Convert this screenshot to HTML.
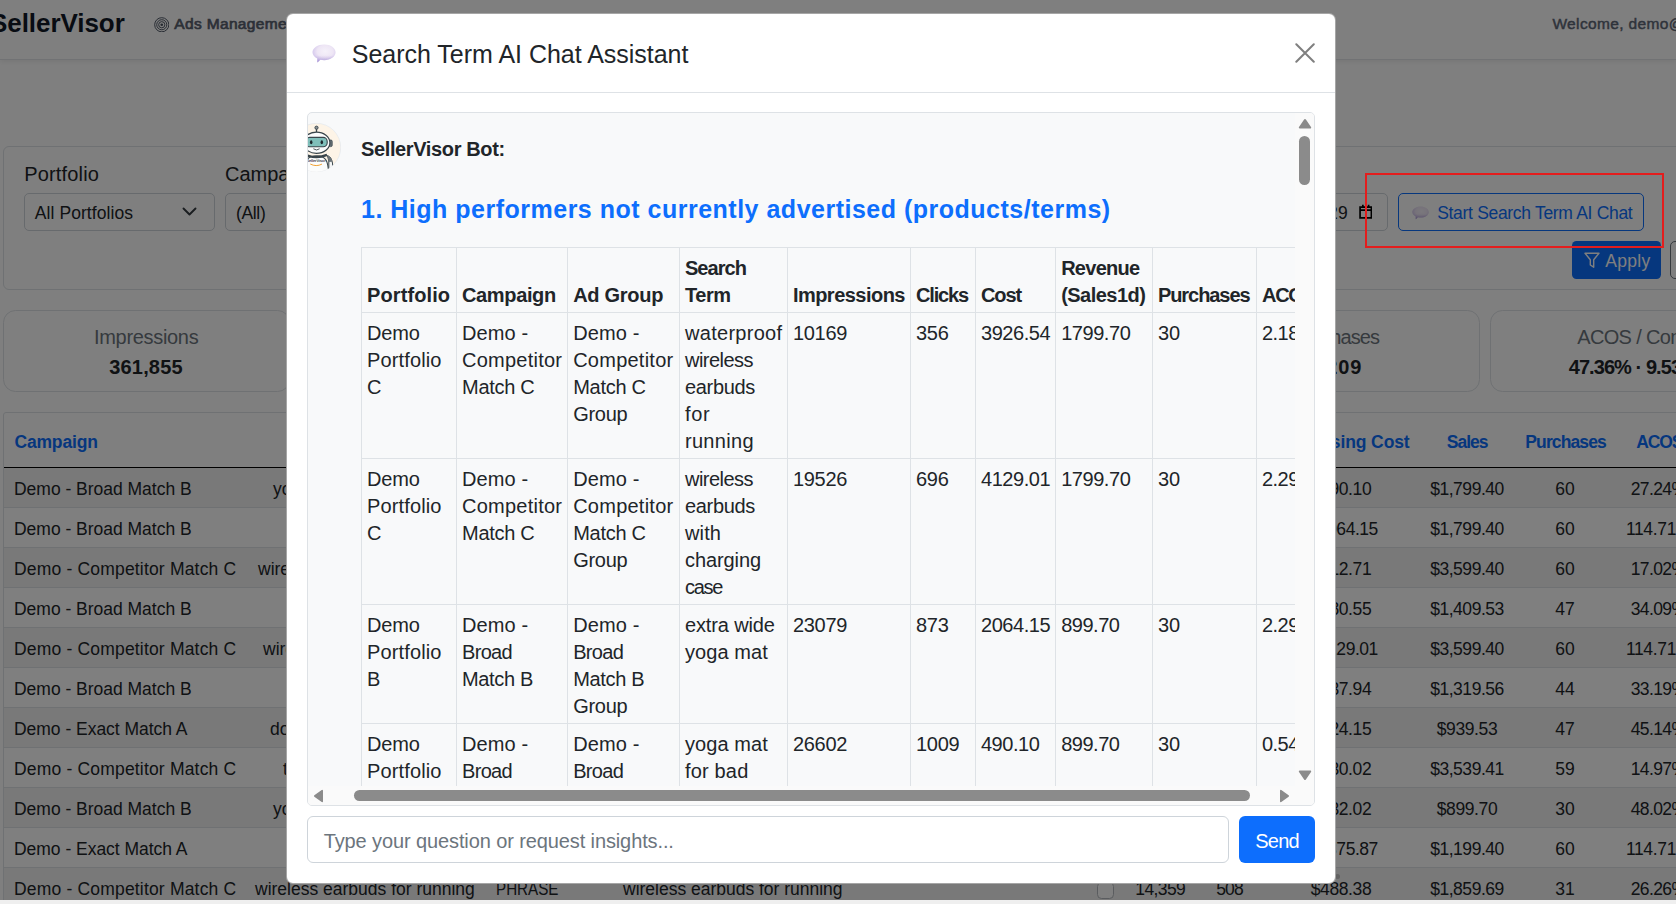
<!DOCTYPE html>
<html lang="en"><head><meta charset="utf-8"><title>SellerVisor - Search Term AI Chat Assistant</title>
<style>
*{box-sizing:border-box;}
html,body{margin:0;padding:0;}
body{width:1676px;height:904px;overflow:hidden;position:relative;background:#fff;
 font-family:"Liberation Sans",sans-serif;color:#212529;font-size:20px;}
.abs{position:absolute;white-space:nowrap;}
#app{position:absolute;left:0;top:0;width:1676px;height:904px;overflow:hidden;background:#fff;}
/* top bar */
.topbar{position:absolute;left:0;top:0;width:1676px;height:60px;background:#fff;border-bottom:1px solid #e3e5e8;box-shadow:0 2px 5px rgba(0,0,0,.07);}
.target-ic{position:absolute;left:153.8px;top:16.8px;width:15.5px;height:15.5px;}
/* filter card */
.filters{position:absolute;left:3px;top:146px;width:1800px;height:144px;border:1px solid #dee2e6;border-radius:6px;background:#fff;}
.select{position:absolute;height:38px;border:1px solid #ced4da;border-radius:5px;background:#fff;overflow:hidden;}
.btn-outline{position:absolute;left:1398px;top:193px;width:246px;height:38px;border:1px solid #0d6efd;border-radius:5px;color:#0d6efd;}
.btn-apply{position:absolute;left:1572px;top:241px;width:89px;height:37.7px;background:#0d6efd;border-radius:4.5px;color:#fff;}
.btn-next{position:absolute;left:1670px;top:241px;width:60px;height:38px;border:1px solid #6c757d;border-radius:5px;}
/* stat cards */
.stat{position:absolute;top:310px;height:81.5px;border:1px solid #dee2e6;border-radius:12.5px;background:#fff;}
/* table card */
.tcard{position:absolute;left:3px;top:412px;width:1800px;height:520px;border:1px solid #dee2e6;border-radius:3px 3px 0 0;background:#fff;}
.thead{position:absolute;left:0;top:0;width:100%;height:55px;border-bottom:1.5px solid #000;}
.th{color:#0d6efd;}
.tr{position:absolute;left:0;width:100%;height:40px;border-bottom:1px solid #dee2e6;}
.tr.odd{background:#f2f2f2;}
.chk{position:absolute;left:1093.2px;top:14.3px;width:16.6px;height:16.6px;border:1px solid #b4b9be;border-radius:4.5px;background:#fff;}
/* overlay */
.backdrop{position:absolute;left:0;top:0;width:1676px;height:904px;background:rgba(0,0,0,.5);}
.annot{position:absolute;left:1365px;top:172.6px;width:299px;height:75.8px;border:2px solid #e41d1d;}
.strip{position:absolute;left:0;top:900px;width:1676px;height:4px;background:#efefef;}
.dot{position:absolute;left:1334.8px;top:874.3px;width:5px;height:5px;border-radius:50%;background:#626262;}
/* modal */
.modal{position:absolute;left:286px;top:13px;width:1050px;height:871px;background:#fff;border:1px solid rgba(0,0,0,.35);border-radius:7px;}
.mhead{position:absolute;left:0;top:0;width:100%;height:78.5px;border-bottom:1px solid #dee2e6;}
.bubble{position:absolute;}
.close{position:absolute;left:1008px;top:29px;width:20.1px;height:20.1px;}
.chat{position:absolute;left:20px;top:98px;width:1008px;height:694px;border:1px solid #dee2e6;border-radius:5px;background:#f8f9fa;overflow:hidden;}
.avatar{position:absolute;left:-16.5px;top:10.2px;width:49px;height:49px;}
.view{position:absolute;left:0;top:0;width:987px;height:672.5px;overflow:hidden;}
table.ai{position:absolute;left:53px;top:134px;border-collapse:collapse;table-layout:fixed;font-size:20px;line-height:27px;}
table.ai td,table.ai th{border:1px solid #dee2e6;padding:7px 5px 3px 5px;vertical-align:top;text-align:left;white-space:nowrap;overflow:hidden;}
table.ai th{vertical-align:bottom;font-weight:700;}
.vsb{position:absolute;left:987px;top:0;width:19px;height:672.5px;background:#fafafa;}
.hsb{position:absolute;left:0;top:672.5px;width:1006px;height:19.5px;background:#fafafa;}
.thumb{position:absolute;background:#8b8b8b;border-radius:6px;}
.input{position:absolute;left:20px;top:802px;width:921.5px;height:46.5px;border:1px solid #ced4da;border-radius:6px;background:#fff;}
.send{position:absolute;left:952px;top:802px;width:76px;height:46.5px;border-radius:6px;background:#0d6efd;color:#fff;}
</style></head>
<body>
<div id="app">
 <header class="topbar">
  <span class="abs " style="left:-10px;top:7.99px;font-size:26px;line-height:30px;font-weight:700;color:#111827;"><span style="letter-spacing:-0.06px">SellerVisor</span></span>
  <svg class="target-ic" viewBox="0 0 16 16"><g fill="none" stroke="#4b5563" stroke-width="1"><circle cx="8" cy="8" r="7.300"/><circle cx="8" cy="8" r="5.200"/><circle cx="8" cy="8" r="3.200"/></g><circle cx="8" cy="8" r="1.400" fill="#4b5563"/></svg>
  <span class="abs " style="left:174.3px;top:13.63px;font-size:15.5px;line-height:20px;color:#59616f;-webkit-text-stroke:.7px #59616f;"><span style="letter-spacing:0.34px">Ads Management</span></span>
  <span class="abs " style="left:1552.4px;top:13.63px;font-size:15.5px;line-height:20px;color:#5d6676;-webkit-text-stroke:.45px #5d6676;"><span style="letter-spacing:0.36px">Welcome, demo@sellervisor.com</span></span>
 </header>
 <section class="filters">
  <span class="abs " style="left:20.3px;top:14.87px;font-size:20px;line-height:24px;"><span style="letter-spacing:0.15px">Portfolio</span></span>
  <div class="select" style="left:20px;top:46px;width:191px"><span class="abs " style="left:9.8px;top:8.84px;font-size:17.5px;line-height:21px;"><span style="letter-spacing:0.07px">All Portfolios</span></span><svg style="position:absolute;left:157px;top:13px" width="15" height="10" viewBox="0 0 15 10"><path d="M1.500 1.500l6 6 6-6" fill="none" stroke="#343a40" stroke-width="1.900" stroke-linecap="round" stroke-linejoin="round"/></svg></div>
  <span class="abs " style="left:221px;top:14.87px;font-size:20px;line-height:24px;">Campaign</span>
  <div class="select" style="left:221px;top:46px;width:191px"><span class="abs " style="left:10px;top:8.84px;font-size:17.5px;line-height:21px;"><span style="letter-spacing:-0.35px">(All)</span></span></div>
  <div class="select" style="left:1196px;top:46px;width:188px"><span class="abs " style="left:54.3px;top:8.84px;font-size:17.5px;line-height:21px;"><span style="letter-spacing:0.33px">2025-09-29</span></span><svg style="position:absolute;left:157.7px;top:9.5px" width="13.500" height="15.300" viewBox="0 0 15 17"><path d="M1.200 3.500h12.600v12H1.200zM1.200 6.800h12.600M4.300 .8v3.400M10.700 .8v3.400" fill="none" stroke="#000" stroke-width="1.900"/></svg></div>
 </section>
 <div class="btn-outline"><svg class="bubble" style="left:13px;top:12px" width="17" height="13.5" viewBox="0 0 24 19"><defs><radialGradient id="g1" cx="55%" cy="38%" r="62%"><stop offset="0" stop-color="#f5f1fa"/><stop offset="0.55" stop-color="#eee6f5"/><stop offset="0.85" stop-color="#d9cdee"/><stop offset="1" stop-color="#bfaee2"/></radialGradient><linearGradient id="g1t" x1="0" y1="0" x2="0" y2="1"><stop offset="0.6" stop-color="#b7a5dc" stop-opacity="0"/><stop offset="1" stop-color="#9a86cf" stop-opacity=".75"/></linearGradient></defs><path d="M12.200 .5C18.600 .5 23.700 4 23.700 8.400c0 4.400-5.100 7.900-11.500 7.900-1.300 0-2.600-.15-3.800-.4L5.300 18.700 5.200 14.700C2.300 13.200.4 11 .4 8.400.4 4 5.700.5 12.200.5z" fill="url(#g1)"/><path d="M12.200 .5C18.600 .5 23.700 4 23.700 8.400c0 4.400-5.100 7.900-11.500 7.900-1.300 0-2.600-.15-3.800-.4L5.300 18.700 5.200 14.700C2.300 13.200.4 11 .4 8.400.4 4 5.700.5 12.200.5z" fill="url(#g1t)"/></svg><span class="abs " style="left:38.2px;top:8.64px;font-size:17.5px;line-height:21px;"><span style="letter-spacing:-0.31px">Start Search Term AI Chat</span></span></div>
 <div class="btn-apply"><svg style="position:absolute;left:11.5px;top:10.5px" width="16" height="17" viewBox="0 0 16 17"><path d="M1 1.200h14L9.700 7.800v7.400L6.300 13V7.800z" fill="none" stroke="#fff" stroke-width="1.400" stroke-linejoin="round"/></svg><span class="abs " style="left:33.2px;top:9.84px;font-size:17.5px;line-height:21px;"><span style="letter-spacing:0.31px">Apply</span></span></div>
 <div class="btn-next"></div>
 <section class="stats">
  <div class="stat" style="left:3px;width:287px"><span class="abs " style="left:142.2px;top:14.27px;font-size:20px;line-height:24px;transform:translateX(-50%);color:#6c757d;"><span style="letter-spacing:-0.32px">Impressions</span></span><span class="abs " style="left:142px;top:44.07px;font-size:20px;line-height:24px;font-weight:700;transform:translateX(-50%);"><span style="letter-spacing:0.17px">361,855</span></span></div>
  <div class="stat" style="left:1193px;width:287px"><span class="abs " style="left:142px;top:14.27px;font-size:20px;line-height:24px;transform:translateX(-50%);color:#6c757d;"><span style="letter-spacing:-0.93px">Purchases</span></span><span class="abs " style="left:141px;top:44.07px;font-size:20px;line-height:24px;font-weight:700;transform:translateX(-50%);"><span style="letter-spacing:0.88px">1,209</span></span></div>
  <div class="stat" style="left:1490px;width:287px"><span class="abs " style="left:86.2px;top:14.27px;font-size:20px;line-height:24px;color:#6c757d;"><span style="letter-spacing:-0.64px">ACOS / Conv</span></span><span class="abs " style="left:77.7px;top:44.07px;font-size:20px;line-height:24px;font-weight:700;"><span style="letter-spacing:-0.93px">47.36% &middot; 9.53%</span></span></div>
 </section>
 <section class="tcard">
  <div class="thead">
   <span class="abs th" style="left:10.4px;top:18.84px;font-size:17.5px;line-height:21px;font-weight:700;"><span style="letter-spacing:-0.15px">Campaign</span></span>
   <span class="abs th" style="left:1405.6px;top:18.84px;font-size:17.5px;line-height:21px;font-weight:700;transform:translateX(-100%);"><span style="letter-spacing:-0.10px">Advertising Cost</span></span>
   <span class="abs th" style="left:1463.2px;top:18.84px;font-size:17.5px;line-height:21px;font-weight:700;transform:translateX(-50%);"><span style="letter-spacing:-1.00px">Sales</span></span>
   <span class="abs th" style="left:1561.6px;top:18.84px;font-size:17.5px;line-height:21px;font-weight:700;transform:translateX(-50%);"><span style="letter-spacing:-0.88px">Purchases</span></span>
   <span class="abs th" style="left:1632.2px;top:18.84px;font-size:17.5px;line-height:21px;font-weight:700;"><span style="letter-spacing:-1.14px">ACOS</span></span>
  </div>
<div class="tr odd" style="top:55px"><span class="abs " style="left:10px;top:10.84px;font-size:17.5px;line-height:21px;"><span style="letter-spacing:-0.02px">Demo - Broad Match B</span></span><span class="abs " style="left:269px;top:10.84px;font-size:17.5px;line-height:21px;">yoga mat for bad knees</span><span class="abs " style="left:1337px;top:10.84px;font-size:17.5px;line-height:21px;transform:translateX(-50%);"><span style="letter-spacing:-0.39px">$490.10</span></span><span class="abs " style="left:1463px;top:10.84px;font-size:17.5px;line-height:21px;transform:translateX(-50%);"><span style="letter-spacing:-0.47px">$1,799.40</span></span><span class="abs " style="left:1561px;top:10.84px;font-size:17.5px;line-height:21px;transform:translateX(-50%);"><span style="letter-spacing:-0.08px">60</span></span><span class="abs " style="left:1654.6px;top:10.84px;font-size:17.5px;line-height:21px;transform:translateX(-50%);"><span style="letter-spacing:-0.60px">27.24%</span></span></div>
<div class="tr" style="top:95px"><span class="abs " style="left:10px;top:10.84px;font-size:17.5px;line-height:21px;"><span style="letter-spacing:-0.02px">Demo - Broad Match B</span></span><span class="abs " style="left:1337px;top:10.84px;font-size:17.5px;line-height:21px;transform:translateX(-50%);"><span style="letter-spacing:-0.47px">$2,064.15</span></span><span class="abs " style="left:1463px;top:10.84px;font-size:17.5px;line-height:21px;transform:translateX(-50%);"><span style="letter-spacing:-0.47px">$1,799.40</span></span><span class="abs " style="left:1561px;top:10.84px;font-size:17.5px;line-height:21px;transform:translateX(-50%);"><span style="letter-spacing:-0.08px">60</span></span><span class="abs " style="left:1654.6px;top:10.84px;font-size:17.5px;line-height:21px;transform:translateX(-50%);"><span style="letter-spacing:-0.34px">114.71%</span></span></div>
<div class="tr odd" style="top:135px"><span class="abs " style="left:10px;top:10.84px;font-size:17.5px;line-height:21px;"><span style="letter-spacing:0.18px">Demo - Competitor Match C</span></span><span class="abs " style="left:254px;top:10.84px;font-size:17.5px;line-height:21px;">wireless earbuds for running</span><span class="abs " style="left:1337px;top:10.84px;font-size:17.5px;line-height:21px;transform:translateX(-50%);"><span style="letter-spacing:-0.39px">$612.71</span></span><span class="abs " style="left:1463px;top:10.84px;font-size:17.5px;line-height:21px;transform:translateX(-50%);"><span style="letter-spacing:-0.47px">$3,599.40</span></span><span class="abs " style="left:1561px;top:10.84px;font-size:17.5px;line-height:21px;transform:translateX(-50%);"><span style="letter-spacing:-0.08px">60</span></span><span class="abs " style="left:1654.6px;top:10.84px;font-size:17.5px;line-height:21px;transform:translateX(-50%);"><span style="letter-spacing:-0.60px">17.02%</span></span></div>
<div class="tr" style="top:175px"><span class="abs " style="left:10px;top:10.84px;font-size:17.5px;line-height:21px;"><span style="letter-spacing:-0.02px">Demo - Broad Match B</span></span><span class="abs " style="left:1337px;top:10.84px;font-size:17.5px;line-height:21px;transform:translateX(-50%);"><span style="letter-spacing:-0.39px">$480.55</span></span><span class="abs " style="left:1463px;top:10.84px;font-size:17.5px;line-height:21px;transform:translateX(-50%);"><span style="letter-spacing:-0.47px">$1,409.53</span></span><span class="abs " style="left:1561px;top:10.84px;font-size:17.5px;line-height:21px;transform:translateX(-50%);"><span style="letter-spacing:-0.08px">47</span></span><span class="abs " style="left:1654.6px;top:10.84px;font-size:17.5px;line-height:21px;transform:translateX(-50%);"><span style="letter-spacing:-0.60px">34.09%</span></span></div>
<div class="tr odd" style="top:215px"><span class="abs " style="left:10px;top:10.84px;font-size:17.5px;line-height:21px;"><span style="letter-spacing:0.18px">Demo - Competitor Match C</span></span><span class="abs " style="left:259px;top:10.84px;font-size:17.5px;line-height:21px;">wireless earbuds bluetooth</span><span class="abs " style="left:1337px;top:10.84px;font-size:17.5px;line-height:21px;transform:translateX(-50%);"><span style="letter-spacing:-0.47px">$4,129.01</span></span><span class="abs " style="left:1463px;top:10.84px;font-size:17.5px;line-height:21px;transform:translateX(-50%);"><span style="letter-spacing:-0.47px">$3,599.40</span></span><span class="abs " style="left:1561px;top:10.84px;font-size:17.5px;line-height:21px;transform:translateX(-50%);"><span style="letter-spacing:-0.08px">60</span></span><span class="abs " style="left:1654.6px;top:10.84px;font-size:17.5px;line-height:21px;transform:translateX(-50%);"><span style="letter-spacing:-0.34px">114.71%</span></span></div>
<div class="tr" style="top:255px"><span class="abs " style="left:10px;top:10.84px;font-size:17.5px;line-height:21px;"><span style="letter-spacing:-0.02px">Demo - Broad Match B</span></span><span class="abs " style="left:1337px;top:10.84px;font-size:17.5px;line-height:21px;transform:translateX(-50%);"><span style="letter-spacing:-0.39px">$437.94</span></span><span class="abs " style="left:1463px;top:10.84px;font-size:17.5px;line-height:21px;transform:translateX(-50%);"><span style="letter-spacing:-0.47px">$1,319.56</span></span><span class="abs " style="left:1561px;top:10.84px;font-size:17.5px;line-height:21px;transform:translateX(-50%);"><span style="letter-spacing:-0.08px">44</span></span><span class="abs " style="left:1654.6px;top:10.84px;font-size:17.5px;line-height:21px;transform:translateX(-50%);"><span style="letter-spacing:-0.60px">33.19%</span></span></div>
<div class="tr odd" style="top:295px"><span class="abs " style="left:10px;top:10.84px;font-size:17.5px;line-height:21px;"><span style="letter-spacing:-0.03px">Demo - Exact Match A</span></span><span class="abs " style="left:266px;top:10.84px;font-size:17.5px;line-height:21px;">dog harness no pull large</span><span class="abs " style="left:1337px;top:10.84px;font-size:17.5px;line-height:21px;transform:translateX(-50%);"><span style="letter-spacing:-0.39px">$424.15</span></span><span class="abs " style="left:1463px;top:10.84px;font-size:17.5px;line-height:21px;transform:translateX(-50%);"><span style="letter-spacing:-0.39px">$939.53</span></span><span class="abs " style="left:1561px;top:10.84px;font-size:17.5px;line-height:21px;transform:translateX(-50%);"><span style="letter-spacing:-0.08px">47</span></span><span class="abs " style="left:1654.6px;top:10.84px;font-size:17.5px;line-height:21px;transform:translateX(-50%);"><span style="letter-spacing:-0.60px">45.14%</span></span></div>
<div class="tr" style="top:335px"><span class="abs " style="left:10px;top:10.84px;font-size:17.5px;line-height:21px;"><span style="letter-spacing:0.18px">Demo - Competitor Match C</span></span><span class="abs " style="left:279px;top:10.84px;font-size:17.5px;line-height:21px;">true wireless earbuds</span><span class="abs " style="left:1337px;top:10.84px;font-size:17.5px;line-height:21px;transform:translateX(-50%);"><span style="letter-spacing:-0.39px">$530.02</span></span><span class="abs " style="left:1463px;top:10.84px;font-size:17.5px;line-height:21px;transform:translateX(-50%);"><span style="letter-spacing:-0.47px">$3,539.41</span></span><span class="abs " style="left:1561px;top:10.84px;font-size:17.5px;line-height:21px;transform:translateX(-50%);"><span style="letter-spacing:-0.08px">59</span></span><span class="abs " style="left:1654.6px;top:10.84px;font-size:17.5px;line-height:21px;transform:translateX(-50%);"><span style="letter-spacing:-0.60px">14.97%</span></span></div>
<div class="tr odd" style="top:375px"><span class="abs " style="left:10px;top:10.84px;font-size:17.5px;line-height:21px;"><span style="letter-spacing:-0.02px">Demo - Broad Match B</span></span><span class="abs " style="left:269px;top:10.84px;font-size:17.5px;line-height:21px;">yoga mat for bad knees</span><span class="abs " style="left:1337px;top:10.84px;font-size:17.5px;line-height:21px;transform:translateX(-50%);"><span style="letter-spacing:-0.39px">$432.02</span></span><span class="abs " style="left:1463px;top:10.84px;font-size:17.5px;line-height:21px;transform:translateX(-50%);"><span style="letter-spacing:-0.39px">$899.70</span></span><span class="abs " style="left:1561px;top:10.84px;font-size:17.5px;line-height:21px;transform:translateX(-50%);"><span style="letter-spacing:-0.08px">30</span></span><span class="abs " style="left:1654.6px;top:10.84px;font-size:17.5px;line-height:21px;transform:translateX(-50%);"><span style="letter-spacing:-0.60px">48.02%</span></span></div>
<div class="tr" style="top:415px"><span class="abs " style="left:10px;top:10.84px;font-size:17.5px;line-height:21px;"><span style="letter-spacing:-0.03px">Demo - Exact Match A</span></span><span class="abs " style="left:1337px;top:10.84px;font-size:17.5px;line-height:21px;transform:translateX(-50%);"><span style="letter-spacing:-0.47px">$1,375.87</span></span><span class="abs " style="left:1463px;top:10.84px;font-size:17.5px;line-height:21px;transform:translateX(-50%);"><span style="letter-spacing:-0.47px">$1,199.40</span></span><span class="abs " style="left:1561px;top:10.84px;font-size:17.5px;line-height:21px;transform:translateX(-50%);"><span style="letter-spacing:-0.08px">60</span></span><span class="abs " style="left:1654.6px;top:10.84px;font-size:17.5px;line-height:21px;transform:translateX(-50%);"><span style="letter-spacing:-0.34px">114.71%</span></span></div>
<div class="tr odd" style="top:455px"><span class="abs " style="left:10px;top:10.84px;font-size:17.5px;line-height:21px;"><span style="letter-spacing:0.18px">Demo - Competitor Match C</span></span><span class="abs " style="left:251px;top:10.84px;font-size:17.5px;line-height:21px;">wireless earbuds for running</span><span class="abs " style="left:492.2px;top:10.84px;font-size:17.5px;line-height:21px;transform:scaleX(.868);transform-origin:0 0;">PHRASE</span><span class="abs " style="left:619px;top:10.84px;font-size:17.5px;line-height:21px;"><span style="letter-spacing:-0.01px">wireless earbuds for running</span></span><span class="chk"></span><span class="abs " style="left:1156.3px;top:10.84px;font-size:17.5px;line-height:21px;transform:translateX(-50%);"><span style="letter-spacing:-0.60px">14,359</span></span><span class="abs " style="left:1225.5px;top:10.84px;font-size:17.5px;line-height:21px;transform:translateX(-50%);"><span style="letter-spacing:-0.84px">508</span></span><span class="abs " style="left:1337px;top:10.84px;font-size:17.5px;line-height:21px;transform:translateX(-50%);"><span style="letter-spacing:-0.39px">$488.38</span></span><span class="abs " style="left:1463px;top:10.84px;font-size:17.5px;line-height:21px;transform:translateX(-50%);"><span style="letter-spacing:-0.47px">$1,859.69</span></span><span class="abs " style="left:1561px;top:10.84px;font-size:17.5px;line-height:21px;transform:translateX(-50%);"><span style="letter-spacing:-0.08px">31</span></span><span class="abs " style="left:1654.6px;top:10.84px;font-size:17.5px;line-height:21px;transform:translateX(-50%);"><span style="letter-spacing:-0.60px">26.26%</span></span></div>
 </section>
</div>
<div class="backdrop"></div>
<div class="annot"></div>
<div class="dot"></div>
<div class="modal">
 <div class="mhead">
  <svg class="bubble" style="left:25.2px;top:30.1px" width="24" height="18.8" viewBox="0 0 24 19"><defs><radialGradient id="g2" cx="55%" cy="38%" r="62%"><stop offset="0" stop-color="#f5f1fa"/><stop offset="0.55" stop-color="#eee6f5"/><stop offset="0.85" stop-color="#d9cdee"/><stop offset="1" stop-color="#bfaee2"/></radialGradient><linearGradient id="g2t" x1="0" y1="0" x2="0" y2="1"><stop offset="0.6" stop-color="#b7a5dc" stop-opacity="0"/><stop offset="1" stop-color="#9a86cf" stop-opacity=".75"/></linearGradient></defs><path d="M12.200 .5C18.600 .5 23.700 4 23.700 8.400c0 4.400-5.100 7.900-11.500 7.900-1.300 0-2.600-.15-3.800-.4L5.300 18.700 5.200 14.700C2.300 13.200.4 11 .4 8.400.4 4 5.700.5 12.200.5z" fill="url(#g2)"/><path d="M12.200 .5C18.600 .5 23.700 4 23.700 8.400c0 4.400-5.100 7.900-11.500 7.900-1.300 0-2.600-.15-3.800-.4L5.300 18.700 5.200 14.700C2.300 13.200.4 11 .4 8.400.4 4 5.700.5 12.200.5z" fill="url(#g2t)"/></svg>
  <span class="abs " style="left:64.8px;top:25.14px;font-size:25px;line-height:30px;"><span style="letter-spacing:-0.02px">Search Term AI Chat Assistant</span></span>
  <svg class="close" viewBox="0 0 20 20"><path d="M1.300 1.300l17.400 17.400M18.700 1.300L1.300 18.700" stroke="#000" stroke-opacity=".5" stroke-width="2" stroke-linecap="round" fill="none"/></svg>
 </div>
 <div class="chat">
  <div class="view">
   <div class="avatar"><svg width="49" height="49" viewBox="0 0 49 49">
<defs><clipPath id="av"><circle cx="24.500" cy="24.500" r="24.200"/></clipPath></defs>
<circle cx="24.500" cy="24.500" r="24.200" fill="#fdf4e7" stroke="#dfe5ec" stroke-width=".6"/>
<g clip-path="url(#av)">
<line x1="24.500" y1="6" x2="24.500" y2="9" stroke="#39454b" stroke-width="1.300"/>
<circle cx="24.500" cy="4.700" r="1.600" fill="#8d9499" stroke="#39454b" stroke-width=".9"/>
<rect x="8.400" y="17" width="3.200" height="6.600" rx="1.400" fill="#6b7479" stroke="#39454b" stroke-width=".8"/>
<rect x="37" y="17" width="3.200" height="6.600" rx="1.400" fill="#6b7479" stroke="#39454b" stroke-width=".8"/>
<ellipse cx="24.500" cy="19.700" rx="13.400" ry="10.600" fill="#fbfcfc" stroke="#39454b" stroke-width="1.200"/>
<rect x="13.600" y="14.400" width="21.600" height="9.400" rx="4" fill="#7fbfba" stroke="#39454b" stroke-width="1.100"/>
<ellipse cx="19.200" cy="19.300" rx="1.250" ry="2" fill="#1f2a2f"/><ellipse cx="29.800" cy="19.300" rx="1.250" ry="2" fill="#1f2a2f"/>
<path d="M21.700 26q2.800 2.200 5.600 0" fill="none" stroke="#39454b" stroke-width=".9" stroke-linecap="round"/>
<path d="M12 53c0-15 3-20.300 12.500-20.300S36.600 38 36.600 53z" fill="#fbfcfc" stroke="#39454b" stroke-width="1.100"/>
<path d="M14.500 30.800q10 4.300 20 0l1.100 2.100q-11 4.800-22.200 0z" fill="#39454b"/>
<path d="M35.400 32.600c3.600 1 5.400 5 5.400 12.300l-4 1.600V38z" fill="#f3f5f5" stroke="#39454b" stroke-width="1"/>
<path d="M35.600 32.800c2.600.8 3.900 2.800 4.500 6l-3.400.2z" fill="#6b7479"/>
<text x="24" y="39.300" font-family="Liberation Sans" font-size="3.900" font-weight="700" text-anchor="middle" fill="#2b3337" letter-spacing="-.1" text-rendering="geometricPrecision" opacity=".9">SellerVisor</text>
<path d="M18.600 41.200q5.600 2.900 11 .1" fill="none" stroke="#f0a235" stroke-width="1" stroke-linecap="round"/>
</g>
</svg></div>
   <span class="abs " style="left:53px;top:24.37px;font-size:20px;line-height:24px;font-weight:700;"><span style="letter-spacing:-0.37px">SellerVisor Bot:</span></span>
   <span class="abs " style="left:53px;top:81.34px;font-size:25px;line-height:30px;font-weight:700;color:#0d6efd;"><span style="letter-spacing:0.50px">1. High performers not currently advertised (products/terms)</span></span>
   <table class="ai" style="width:1015.1px"><colgroup><col style="width:95px"><col style="width:111.2px"><col style="width:111.8px"><col style="width:107.9px"><col style="width:123.1px"><col style="width:65px"><col style="width:80.2px"><col style="width:96.8px"><col style="width:104.1px"><col style="width:120px"></colgroup><thead><tr><th><span style="letter-spacing:0.11px">Portfolio</span></th><th><span style="letter-spacing:-0.36px">Campaign</span></th><th><span style="letter-spacing:-0.29px">Ad Group</span></th><th><span style="letter-spacing:-0.96px">Search</span><br><span style="letter-spacing:-0.44px">Term</span></th><th><span style="letter-spacing:-0.52px">Impressions</span></th><th><span style="letter-spacing:-1.17px">Clicks</span></th><th><span style="letter-spacing:-1.08px">Cost</span></th><th><span style="letter-spacing:-0.73px">Revenue</span><br><span style="letter-spacing:-0.52px">(Sales1d)</span></th><th><span style="letter-spacing:-1.07px">Purchases</span></th><th><span style="letter-spacing:-1.30px">ACOS</span></th></tr></thead><tbody><tr><td><span style="letter-spacing:-0.12px">Demo</span><br><span style="letter-spacing:0.14px">Portfolio</span><br>C</td><td><span style="letter-spacing:0.12px">Demo -</span><br><span style="letter-spacing:0.24px">Competitor</span><br><span style="letter-spacing:-0.28px">Match C</span></td><td><span style="letter-spacing:0.12px">Demo -</span><br><span style="letter-spacing:0.24px">Competitor</span><br><span style="letter-spacing:-0.28px">Match C</span><br><span style="letter-spacing:-0.30px">Group</span></td><td><span style="letter-spacing:0.29px">waterproof</span><br><span style="letter-spacing:-0.54px">wireless</span><br><span style="letter-spacing:-0.33px">earbuds</span><br><span style="letter-spacing:0.63px">for</span><br><span style="letter-spacing:0.30px">running</span></td><td><span style="letter-spacing:-0.28px">10169</span></td><td><span style="letter-spacing:-0.22px">356</span></td><td><span style="letter-spacing:-0.45px">3926.54</span></td><td><span style="letter-spacing:-0.45px">1799.70</span></td><td><span style="letter-spacing:-0.09px">30</span></td><td><span style="letter-spacing:-0.57px">2.18</span></td></tr><tr><td><span style="letter-spacing:-0.12px">Demo</span><br><span style="letter-spacing:0.14px">Portfolio</span><br>C</td><td><span style="letter-spacing:0.12px">Demo -</span><br><span style="letter-spacing:0.24px">Competitor</span><br><span style="letter-spacing:-0.28px">Match C</span></td><td><span style="letter-spacing:0.12px">Demo -</span><br><span style="letter-spacing:0.24px">Competitor</span><br><span style="letter-spacing:-0.28px">Match C</span><br><span style="letter-spacing:-0.30px">Group</span></td><td><span style="letter-spacing:-0.54px">wireless</span><br><span style="letter-spacing:-0.33px">earbuds</span><br><span style="letter-spacing:0.14px">with</span><br><span style="letter-spacing:-0.09px">charging</span><br><span style="letter-spacing:-1.30px">case</span></td><td><span style="letter-spacing:-0.28px">19526</span></td><td><span style="letter-spacing:-0.22px">696</span></td><td><span style="letter-spacing:-0.45px">4129.01</span></td><td><span style="letter-spacing:-0.45px">1799.70</span></td><td><span style="letter-spacing:-0.09px">30</span></td><td><span style="letter-spacing:-0.57px">2.29</span></td></tr><tr><td><span style="letter-spacing:-0.12px">Demo</span><br><span style="letter-spacing:0.14px">Portfolio</span><br>B</td><td><span style="letter-spacing:0.12px">Demo -</span><br><span style="letter-spacing:-0.67px">Broad</span><br><span style="letter-spacing:-0.34px">Match B</span></td><td><span style="letter-spacing:0.12px">Demo -</span><br><span style="letter-spacing:-0.67px">Broad</span><br><span style="letter-spacing:-0.34px">Match B</span><br><span style="letter-spacing:-0.30px">Group</span></td><td><span style="letter-spacing:-0.13px">extra wide</span><br><span style="letter-spacing:0.08px">yoga mat</span></td><td><span style="letter-spacing:-0.28px">23079</span></td><td><span style="letter-spacing:-0.22px">873</span></td><td><span style="letter-spacing:-0.45px">2064.15</span></td><td><span style="letter-spacing:-0.47px">899.70</span></td><td><span style="letter-spacing:-0.09px">30</span></td><td><span style="letter-spacing:-0.57px">2.29</span></td></tr><tr><td><span style="letter-spacing:-0.12px">Demo</span><br><span style="letter-spacing:0.14px">Portfolio</span><br>B</td><td><span style="letter-spacing:0.12px">Demo -</span><br><span style="letter-spacing:-0.67px">Broad</span><br><span style="letter-spacing:-0.34px">Match B</span></td><td><span style="letter-spacing:0.12px">Demo -</span><br><span style="letter-spacing:-0.67px">Broad</span><br><span style="letter-spacing:-0.34px">Match B</span><br><span style="letter-spacing:-0.30px">Group</span></td><td><span style="letter-spacing:0.08px">yoga mat</span><br><span style="letter-spacing:0.17px">for bad</span><br>knees</td><td><span style="letter-spacing:-0.28px">26602</span></td><td><span style="letter-spacing:-0.26px">1009</span></td><td><span style="letter-spacing:-0.47px">490.10</span></td><td><span style="letter-spacing:-0.47px">899.70</span></td><td><span style="letter-spacing:-0.09px">30</span></td><td><span style="letter-spacing:-0.57px">0.54</span></td></tr></tbody></table>
  </div>
  <div class="vsb"><svg style="position:absolute;left:2.5px;top:5px" width="14" height="11" viewBox="0 0 14 11"><path d="M7 2.100L12.100 9.500H1.900z" fill="#8b8b8b" stroke="#8b8b8b" stroke-width="2.200" stroke-linejoin="round"/></svg><span class="thumb" style="left:3.8px;top:22.8px;width:11.4px;height:49.2px"></span><svg style="position:absolute;left:2.5px;top:657.4px" width="14" height="11" viewBox="0 0 14 11"><path d="M7 8.900L12.100 1.500H1.900z" fill="#8b8b8b" stroke="#8b8b8b" stroke-width="2.200" stroke-linejoin="round"/></svg></div>
  <div class="hsb"><svg style="position:absolute;left:5px;top:3.2px" width="11" height="14" viewBox="0 0 11 14"><path d="M1.800 7L9.200 1.600v10.800z" fill="#8b8b8b" stroke="#8b8b8b" stroke-width="1.600" stroke-linejoin="round"/></svg><span class="thumb" style="left:46.3px;top:4.4px;width:895.3px;height:11.4px"></span><svg style="position:absolute;left:970.5px;top:3.2px" width="11" height="14" viewBox="0 0 11 14"><path d="M9.200 7L1.800 1.600v10.800z" fill="#8b8b8b" stroke="#8b8b8b" stroke-width="1.600" stroke-linejoin="round"/></svg></div>
 </div>
 <div class="input"><span class="abs " style="left:15.7px;top:12.07px;font-size:20px;line-height:24px;color:#6c757d;"><span style="letter-spacing:-0.11px">Type your question or request insights...</span></span></div>
 <div class="send"><span class="abs " style="left:16.3px;top:12.67px;font-size:20px;line-height:24px;"><span style="letter-spacing:-0.81px">Send</span></span></div>
</div>
<div class="strip"></div>
</body></html>
